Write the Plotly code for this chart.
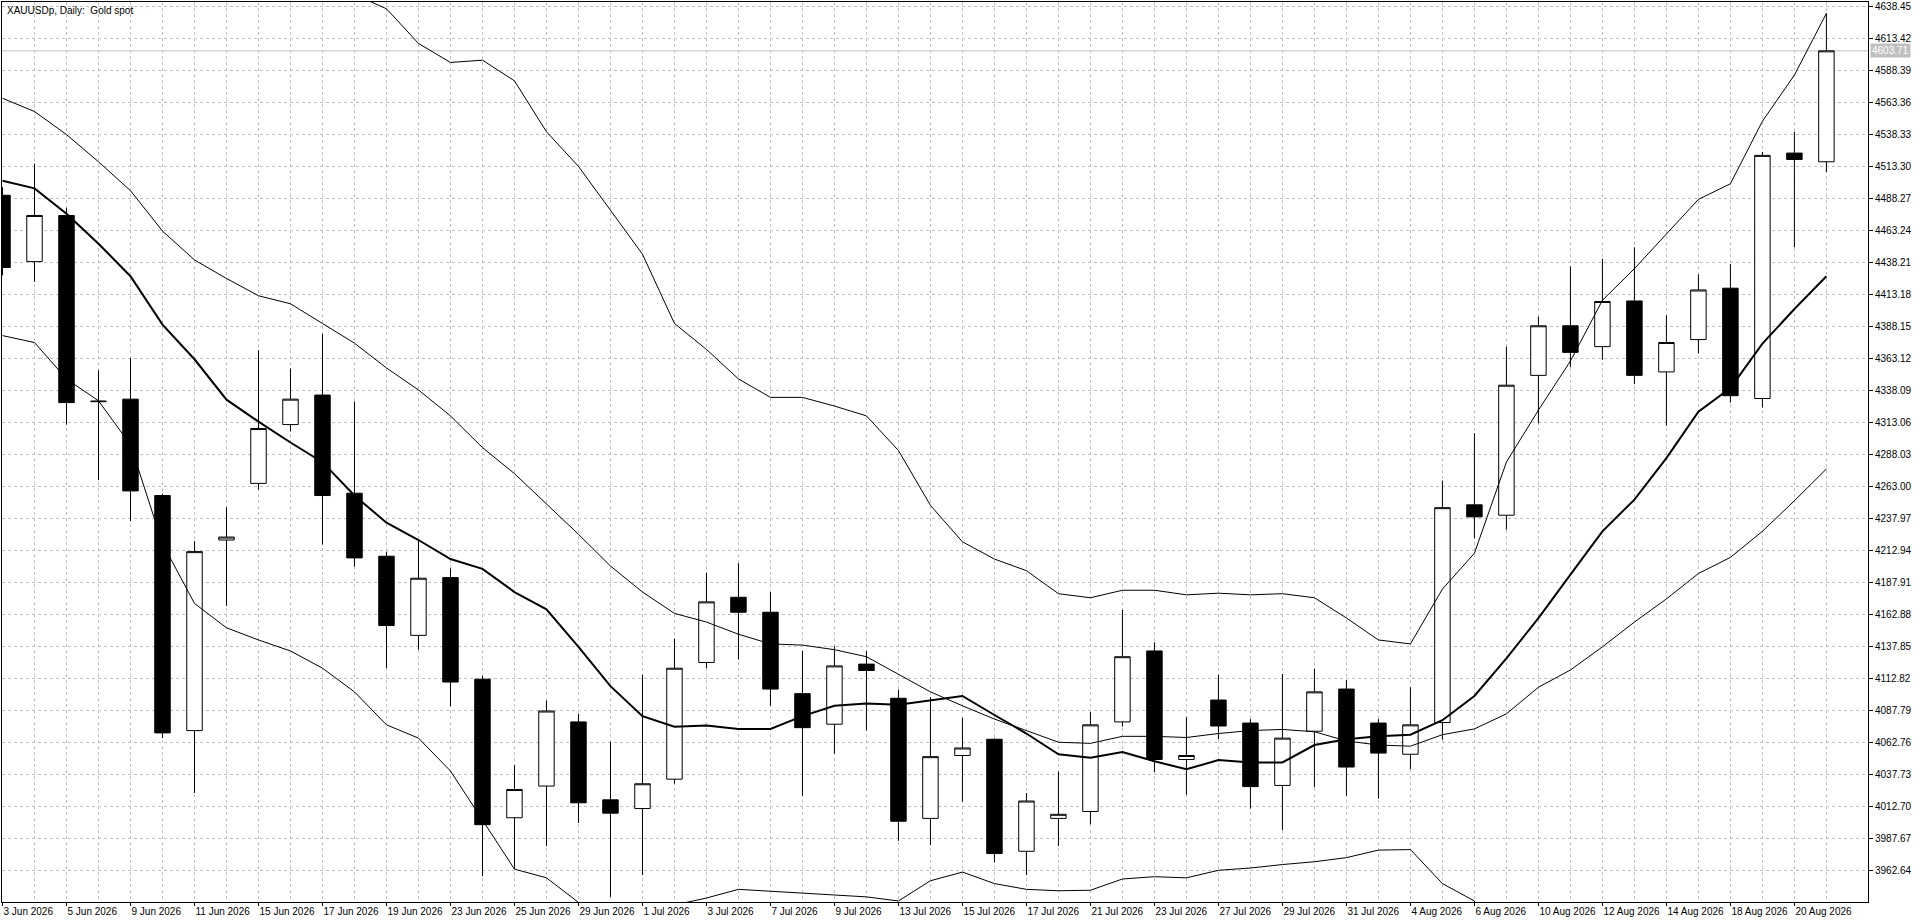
import plotly.graph_objects as go

dates = ["3 Jun 2026", "4 Jun 2026", "5 Jun 2026", "8 Jun 2026", "9 Jun 2026", "10 Jun 2026",
         "11 Jun 2026", "12 Jun 2026", "15 Jun 2026", "16 Jun 2026", "17 Jun 2026", "18 Jun 2026",
         "19 Jun 2026", "22 Jun 2026", "23 Jun 2026", "24 Jun 2026", "25 Jun 2026", "26 Jun 2026",
         "29 Jun 2026", "30 Jun 2026", "1 Jul 2026", "2 Jul 2026", "3 Jul 2026", "6 Jul 2026",
         "7 Jul 2026", "8 Jul 2026", "9 Jul 2026", "10 Jul 2026", "13 Jul 2026", "14 Jul 2026",
         "15 Jul 2026", "16 Jul 2026", "17 Jul 2026", "20 Jul 2026", "21 Jul 2026", "22 Jul 2026",
         "23 Jul 2026", "24 Jul 2026", "27 Jul 2026", "28 Jul 2026", "29 Jul 2026", "30 Jul 2026",
         "31 Jul 2026", "3 Aug 2026", "4 Aug 2026", "5 Aug 2026", "6 Aug 2026", "7 Aug 2026",
         "10 Aug 2026", "11 Aug 2026", "12 Aug 2026", "13 Aug 2026", "14 Aug 2026", "17 Aug 2026",
         "18 Aug 2026", "19 Aug 2026", "20 Aug 2026", "21 Aug 2026"]

opens = [4490.7, 4438.8, 4474.9, 4329.2, 4331.2, 4255.8, 4071.9, 4221.0, 4265.3, 4311.3,
         4334.4, 4257.6, 4208.3, 4146.4, 4191.6, 4112.1, 4003.7, 4028.5, 4078.7, 4017.7,
         4010.9, 4033.9, 4125.2, 4176.2, 4164.5, 4100.8, 4076.9, 4123.9, 4097.2, 4003.2,
         4052.4, 4065.1, 3977.5, 4003.2, 4008.6, 4078.7, 4134.2, 4049.3, 4095.8, 4077.8,
         4029.0, 4071.4, 4104.4, 4077.8, 4053.4, 4078.2, 4248.5, 4240.4, 4349.8, 4388.6,
         4372.3, 4408.0, 4352.5, 4377.8, 4418.0, 4331.7, 4523.7, 4516.9]
highs = [4497.0, 4515.5, 4480.8, 4353.8, 4363.3, 4257.1, 4220.1, 4246.7, 4369.6, 4355.2,
         4382.3, 4329.4, 4211.9, 4221.0, 4198.8, 4114.8, 4044.8, 4095.4, 4085.0, 4063.3,
         4115.7, 4143.7, 4195.2, 4202.9, 4180.3, 4134.2, 4137.8, 4134.2, 4104.0, 4098.1,
         4081.8, 4066.0, 4023.1, 4039.8, 4086.4, 4166.3, 4141.0, 4082.3, 4115.7, 4080.9,
         4116.2, 4120.2, 4111.6, 4080.9, 4105.8, 4267.5, 4304.6, 4372.3, 4395.8, 4435.1,
         4441.0, 4450.0, 4396.7, 4428.8, 4436.9, 4524.6, 4540.4, 4633.0]
lows = [4428.0, 4422.9, 4311.3, 4267.9, 4235.9, 4066.0, 4023.1, 4169.5, 4260.3, 4305.9,
        4217.4, 4200.2, 4120.7, 4135.2, 4090.9, 3958.0, 3963.5, 3981.5, 3999.6, 3941.8,
        3958.9, 4030.3, 4120.7, 4127.5, 4091.3, 4020.8, 4053.8, 4071.9, 3985.6, 3982.4,
        4016.3, 3968.9, 3958.9, 3981.5, 3998.7, 4075.0, 4039.4, 4021.7, 4065.1, 4010.9,
        3994.2, 4027.6, 4020.8, 4018.6, 4041.6, 4064.7, 4222.3, 4229.1, 4312.3, 4356.1,
        4362.0, 4343.0, 4310.4, 4366.9, 4328.5, 4324.5, 4450.0, 4508.8]
closes = [4434.2, 4474.9, 4328.5, 4329.6, 4259.4, 4070.1, 4211.9, 4223.3, 4308.2, 4331.2,
          4255.8, 4207.0, 4154.1, 4191.1, 4109.9, 3998.3, 4025.8, 4087.2, 4015.4, 4007.3,
          4030.3, 4120.7, 4172.6, 4164.5, 4104.4, 4074.2, 4122.5, 4118.9, 4001.0, 4051.5,
          4058.3, 3975.7, 4016.8, 4006.4, 4076.4, 4129.7, 4049.3, 4052.4, 4075.5, 4028.1,
          4066.0, 4102.2, 4043.4, 4054.3, 4076.4, 4246.3, 4239.1, 4342.1, 4388.6, 4367.8,
          4407.6, 4349.8, 4375.5, 4416.6, 4333.9, 4521.9, 4518.7, 4603.71]

bb_upper = [4752.3, 4736.9, 4729.4, 4703.9, 4693.1, 4707.1, 4708.8, 4698.9, 4681.4, 4677.4,
            4660.1, 4647.8, 4636.6, 4609.5, 4594.6, 4596.4, 4580.2, 4540.4, 4513.3, 4478.5,
            4444.6, 4390.4, 4370.1, 4347.0, 4332.6, 4332.6, 4325.8, 4318.1, 4291.0, 4248.1,
            4219.6, 4206.1, 4197.0, 4179.0, 4175.8, 4181.7, 4181.7, 4178.1, 4179.4, 4178.1,
            4179.0, 4175.8, 4160.0, 4142.8, 4139.7, 4182.6, 4210.6, 4282.0, 4322.6, 4361.0,
            4408.5, 4433.3, 4460.4, 4487.5, 4499.7, 4548.6, 4584.7, 4633.0]
bb_middle = [4566.6, 4556.2, 4538.2, 4516.9, 4494.3, 4462.7, 4440.1, 4425.6, 4412.1, 4405.8,
             4390.4, 4375.0, 4355.6, 4338.4, 4318.1, 4293.3, 4272.9, 4249.4, 4225.5, 4200.6,
             4180.3, 4163.6, 4156.8, 4147.3, 4139.7, 4138.8, 4135.2, 4129.7, 4115.7, 4102.2,
             4091.3, 4080.9, 4071.9, 4062.8, 4061.9, 4067.4, 4067.4, 4066.5, 4069.6, 4071.9,
             4072.8, 4071.0, 4063.8, 4060.6, 4059.7, 4068.7, 4073.2, 4085.0, 4105.8, 4119.3,
             4137.4, 4156.8, 4174.9, 4194.8, 4207.4, 4227.8, 4251.7, 4276.6]
bb_lower = [4380.9, 4375.5, 4347.0, 4329.9, 4295.5, 4218.3, 4171.4, 4152.3, 4142.8, 4134.2,
            4120.7, 4102.2, 4076.4, 4066.0, 4040.3, 4001.9, 3963.5, 3956.7, 3937.5, 3923.0,
            3917.0, 3935.5, 3940.9, 3947.7, 3946.3, 3944.5, 3943.1, 3941.8, 3938.6, 3954.4,
            3961.2, 3952.2, 3947.7, 3946.6, 3947.0, 3955.8, 3957.6, 3956.7, 3962.6, 3964.4,
            3967.1, 3969.3, 3972.5, 3978.4, 3978.8, 3952.2, 3938.6, 3888.0, 3889.0, 3877.5,
            3866.0, 3880.0, 3889.5, 3902.0, 3915.0, 3907.0, 3918.5, 3920.0]
ma_thick = [4502.0, 4496.1, 4476.3, 4452.8, 4427.4, 4389.5, 4362.4, 4330.8, 4313.6, 4297.3,
            4281.9, 4255.8, 4234.5, 4221.0, 4206.1, 4198.4, 4180.3, 4166.8, 4137.4, 4106.7,
            4083.2, 4075.0, 4075.9, 4073.2, 4073.2, 4083.2, 4091.3, 4093.1, 4092.2, 4095.8,
            4099.0, 4084.1, 4069.6, 4053.4, 4050.7, 4055.2, 4047.9, 4041.6, 4048.8, 4047.0,
            4047.0, 4060.6, 4065.1, 4067.4, 4068.7, 4080.0, 4099.0, 4128.4, 4159.9, 4193.9,
            4227.8, 4252.6, 4285.1, 4321.3, 4339.8, 4374.6, 4401.7, 4427.4]

price_ticks = [4638.45, 4613.42, 4588.39, 4563.36, 4538.33, 4513.30, 4488.27, 4463.24,
               4438.21, 4413.18, 4388.15, 4363.12, 4338.09, 4313.06, 4288.03, 4263.00,
               4237.97, 4212.94, 4187.91, 4162.88, 4137.85, 4112.82, 4087.79, 4062.76,
               4037.73, 4012.70, 3987.67, 3962.64]
current_price = 4603.71
title_text = "XAUUSDp, Daily:\u00a0 Gold spot"

idx = list(range(len(dates)))
major_idx = idx[0::2]
minor_idx = idx[1::2]

FONT = "Liberation Sans, Arial, sans-serif"
GRID = "#c0c0c0"

fig = go.Figure()
fig.add_trace(go.Candlestick(
    x=idx, open=opens, high=highs, low=lows, close=closes,
    increasing=dict(line=dict(color="black", width=1), fillcolor="white"),
    decreasing=dict(line=dict(color="black", width=1), fillcolor="black"),
    whiskerwidth=0, hoverinfo="skip", showlegend=False))

for series, w in [(bb_upper, 1), (bb_middle, 1), (bb_lower, 1), (ma_thick, 2)]:
    fig.add_trace(go.Scatter(x=idx, y=series, mode="lines",
                             line=dict(color="black", width=w),
                             hoverinfo="skip", showlegend=False))

fig.add_shape(type="line", xref="paper", x0=0, x1=1, yref="y",
              y0=current_price, y1=current_price,
              line=dict(color=GRID, width=1), layer="below")

fig.add_annotation(xref="paper", yref="y", x=1, y=current_price, xanchor="left",
                   yanchor="middle", xshift=2, text=f"{current_price:.2f}", showarrow=False,
                   bgcolor="#c0c0c0", font=dict(family=FONT, size=10, color="white"),
                   borderpad=1)

fig.add_annotation(xref="paper", yref="paper", x=0, y=1, xanchor="left", yanchor="top",
                   xshift=3, yshift=-1, text=title_text, showarrow=False,
                   font=dict(family=FONT, size=10, color="black"))

fig.update_layout(
    width=1920, height=923,
    margin=dict(l=2, r=52, t=2, b=21),
    plot_bgcolor="white", paper_bgcolor="white",
    showlegend=False, boxgap=0.31,
    font=dict(family=FONT, size=10, color="black"),
)

fig.update_xaxes(
    range=[-0.0156, 58.30],
    tickmode="array", tickvals=major_idx, ticktext=[dates[i] for i in major_idx],
    ticklabelposition="outside right", tickangle=0,
    ticks="outside", ticklen=3, tickcolor="black",
    showgrid=True, gridcolor=GRID, griddash="3px,3px", gridwidth=1,
    minor=dict(tickmode="array", tickvals=minor_idx, showgrid=True,
               gridcolor=GRID, griddash="3px,3px", gridwidth=1, ticks=""),
    showline=True, linecolor="black", linewidth=1, mirror=True,
    zeroline=False, rangeslider=dict(visible=False), fixedrange=True,
    tickfont=dict(family=FONT, size=10, color="black"),
)

fig.update_yaxes(
    side="right", range=[3937.8, 4641.9],
    tickmode="array", tickvals=price_ticks, ticktext=[f"{v:.2f}" for v in price_ticks],
    ticks="outside", ticklen=4, tickcolor="black",
    showgrid=True, gridcolor=GRID, griddash="3px,3px", gridwidth=1,
    showline=True, linecolor="black", linewidth=1, mirror=True,
    zeroline=False, fixedrange=True,
    tickfont=dict(family=FONT, size=10, color="black"),
)

fig.write_html("out.html", config={"displayModeBar": False},
               post_script="document.body.style.margin='0';document.body.style.overflow='hidden';")
